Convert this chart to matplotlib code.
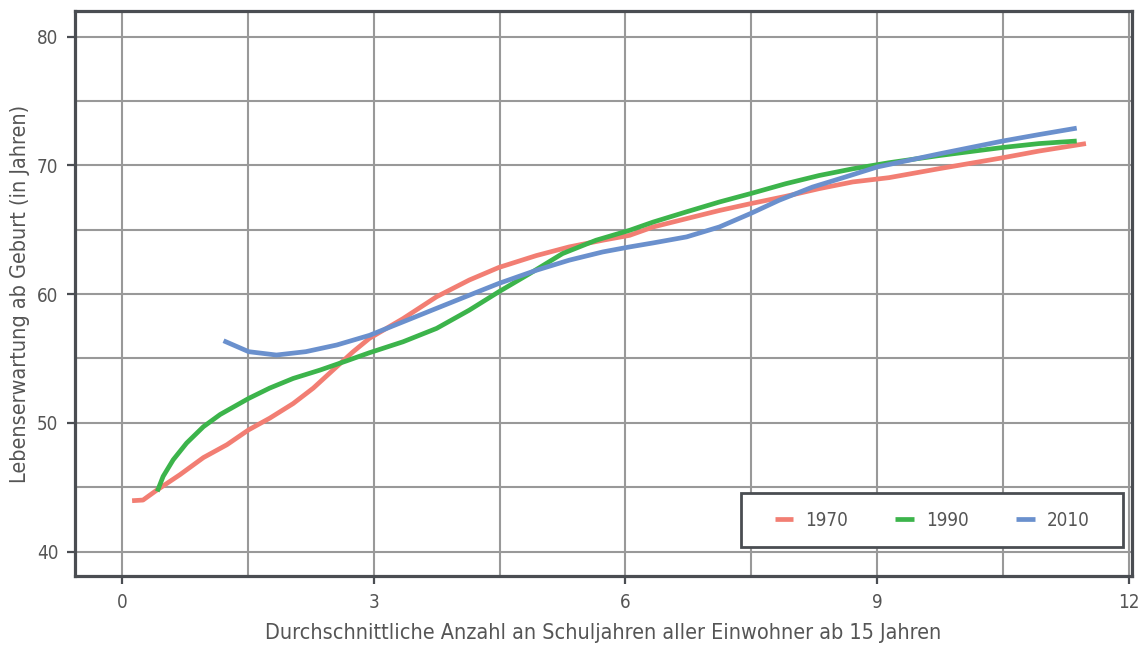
import numpy as np
import matplotlib.pyplot as plt
from matplotlib.ticker import MultipleLocator
from matplotlib.patches import Rectangle

# --- Data ---
x_1970 = [0.12, 0.25, 0.41, 0.69, 0.97, 1.25, 1.51, 1.76, 2.04, 2.28, 2.56, 2.75, 2.95,
          3.35, 3.75, 4.14, 4.49, 4.94, 5.33, 5.73, 6.05, 6.33, 6.73, 7.12, 7.49, 7.91,
          8.31, 8.71, 9.14, 9.74, 10.5, 10.93, 11.49]
y_1970 = [43.95, 44.0, 44.75, 45.97, 47.3, 48.3, 49.46, 50.36, 51.5, 52.7, 54.37, 55.5, 56.57,
          58.1, 59.8, 61.1, 62.07, 63.0, 63.67, 64.19, 64.57, 65.22, 65.87, 66.5, 67.03, 67.6,
          68.2, 68.72, 69.05, 69.75, 70.6, 71.12, 71.7]

x_1990 = [0.42, 0.49, 0.61, 0.77, 0.97, 1.17, 1.51, 1.76, 2.04, 2.36, 2.67, 2.95, 3.35,
          3.75, 4.14, 4.49, 4.86, 5.25, 5.65, 6.05, 6.33, 6.73, 7.12, 7.49, 7.91, 8.31,
          8.71, 9.14, 9.74, 10.5, 10.93, 11.38]
y_1990 = [44.67, 45.84, 47.13, 48.43, 49.7, 50.65, 51.9, 52.7, 53.45, 54.1, 54.8, 55.45, 56.3,
          57.34, 58.76, 60.18, 61.6, 63.15, 64.19, 64.96, 65.6, 66.4, 67.16, 67.81, 68.58, 69.22,
          69.74, 70.21, 70.77, 71.4, 71.7, 71.9]

x_2010 = [1.21, 1.51, 1.84, 2.19, 2.56, 2.95, 3.35, 3.75, 4.14, 4.49, 4.94, 5.33, 5.73,
          6.05, 6.33, 6.73, 7.12, 7.49, 7.83, 8.23, 8.62, 9.0, 9.74, 10.5, 10.93, 11.38]
y_2010 = [56.38, 55.53, 55.27, 55.53, 56.05, 56.8, 57.85, 58.9, 59.92, 60.83, 61.86, 62.64, 63.28,
          63.67, 63.98, 64.45, 65.22, 66.26, 67.29, 68.32, 69.1, 69.88, 70.9, 71.9, 72.4, 72.9]

labels = ["1970", "1990", "2010"]
colors = ["#F27E73", "#3CB44B", "#6A90CD"]

x_ticks = [0, 3, 6, 9, 12]
y_ticks = [40, 50, 60, 70, 80]

plt.rcParams['font.family'] = ['DejaVu Sans']
plt.rcParams['font.stretch'] = 'condensed'
text_col = "#555555"
frame_col = "#4a4d52"

fig = plt.figure(figsize=(11.44, 6.49), dpi=100)
ax = fig.add_axes([0.0656, 0.1125, 0.924, 0.8705])

series = [(x_1970, y_1970), (x_1990, y_1990), (x_2010, y_2010)]
for (xs, ys), lab, c in zip(series, labels, colors):
    ax.plot(xs, ys, color=c, lw=3.4, label=lab, solid_capstyle='butt',
            solid_joinstyle='round')

ax.set_xlim(-0.56, 12.04)
ax.set_ylim(38.1, 82.0)
ax.set_xticks(x_ticks)
ax.set_yticks(y_ticks)
ax.xaxis.set_minor_locator(MultipleLocator(1.5))
ax.yaxis.set_minor_locator(MultipleLocator(5))
ax.grid(which='both', color='#999999', lw=1.5)
ax.set_axisbelow(True)
ax.tick_params(which='major', length=6, width=1.6, color=frame_col,
               labelsize=13.5, labelcolor=text_col, pad=6)
ax.tick_params(which='minor', length=0)
for s in ax.spines.values():
    s.set_color(frame_col)
    s.set_linewidth(2.3)

ax.set_xlabel("Durchschnittliche Anzahl an Schuljahren aller Einwohner ab 15 Jahren",
              fontsize=15.5, color=text_col, labelpad=8)
ax.set_ylabel("Lebenserwartung ab Geburt (in Jahren)", fontsize=15.5, color=text_col,
              labelpad=5)

# legend box
ax.add_patch(Rectangle((0.630, 0.051), 0.3615, 0.0956, transform=ax.transAxes,
                       facecolor='white', edgecolor=frame_col, lw=2.0, zorder=5))
leg = ax.legend(loc='center', bbox_to_anchor=(0.8108, 0.0991), ncol=3, fontsize=13.5,
                frameon=False, handlelength=1.0, handletextpad=0.65,
                columnspacing=2.5, labelcolor=text_col)
leg.set_zorder(6)

fig.savefig('out.png', dpi=100)
